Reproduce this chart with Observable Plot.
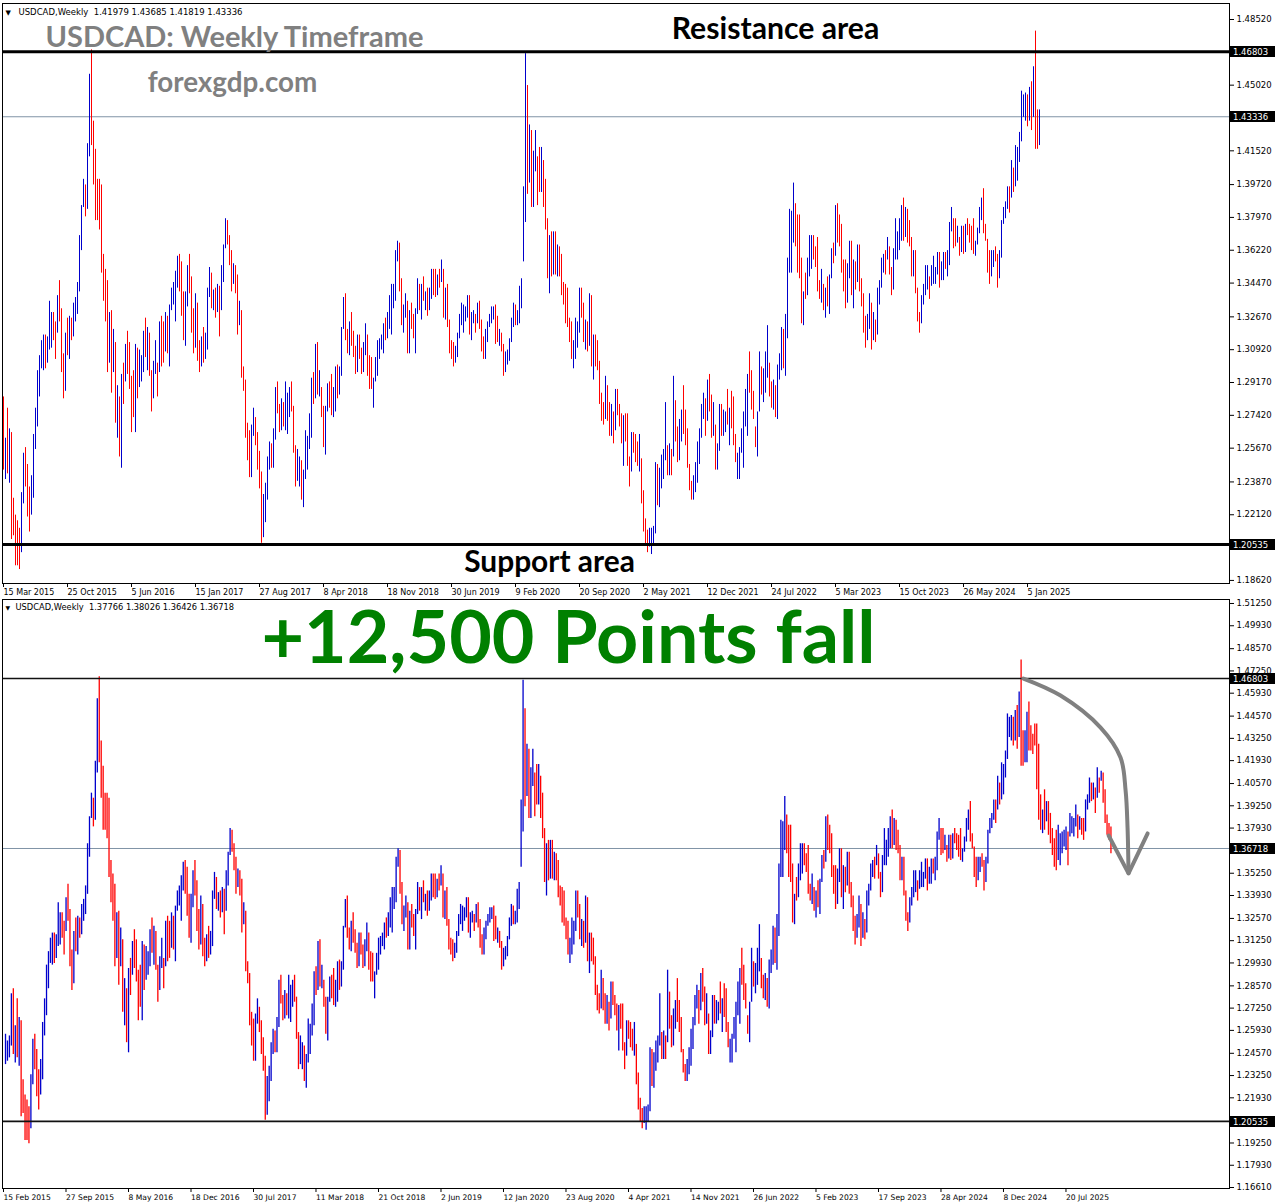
<!DOCTYPE html>
<html><head><meta charset="utf-8">
<script src="https://cdn.jsdelivr.net/npm/d3@7"></script>
<script src="https://cdn.jsdelivr.net/npm/@observablehq/plot@0.6"></script>
<style>
html,body{margin:0;padding:0;background:#fff;}
#wrap{width:1282px;height:1203px;overflow:hidden;background:#fff}
#wrap svg{display:block}
</style></head><body><div id="wrap"></div>
<script>
// Weekly USDCAD bars, [high, low, close] in thousandths above 1.000 (e.g. 284 = 1.284)
// first week starts Sunday 15 Feb 2015, one entry per week
const w2015 = [[257,239,249],[253,241,251],[256,243,253],[281,250,272],[284,245,255],[262,240,259],[278,243,250],[267,238,263],[265,208,222],[230,210,213],[221,194,205],[218,194,200],[214,192,196],[233,201,229],[254,227,250],[257,236,241],[248,220,228],[236,212,222],[242,221,238],[264,230,259],[278,256,274],[298,268,293],[306,284,302],[314,299,308],[317,298,313],[317,299,309],[316,302,313],[335,309,321],[329,310,327],[329,314,326],[324,304,321],[338,318,333],[346,324,330],[331,297,301],[307,283,293],[318,287,313],[326,306,308],[327,304,325],[326,314,323],[334,316,331],[337,324,336],[345,328,340],[370,340,367],[386,362,383],[400,385,389],[397,380,384]];
const w2016 = [[419,384,418],[456,412,444],[469,418,420],[431,397,401],[416,378,389],[400,378,386],[400,373,378],[397,350,354],[360,335,338],[352,324,326],[346,297,301],[329,302,325],[330,286,301],[320,297,309],[313,270,277],[290,262,279],[284,252,254],[296,246,293],[302,280,288],[312,292,311],[319,296,309],[313,288,291],[295,265,282],[298,273,278],[312,265,300],[310,283,289],[309,289,297],[306,292,300],[319,297,314],[326,305,307],[321,298,313],[318,295,297],[298,276,290],[303,283,301],[314,296,307],[302,284,300],[324,297,319],[327,300,314],[324,302,312],[329,308,325],[327,307,312],[333,300,333],[342,330,340],[345,333,341],[351,324,348],[359,342,355],[360,340,349],[356,327,329],[340,314,319],[340,311,338],[354,332,351],[360,339,343]];
const w2017 = [[348,318,323],[331,307,312],[339,310,332],[334,303,313],[314,297,305],[316,300,310],[321,302,308],[318,304,309],[342,309,339],[353,337,344],[350,331,336],[341,330,336],[342,326,330],[344,329,343],[343,316,330],[354,330,350],[365,345,364],[379,363,372],[378,365,368],[370,354,356],[362,340,349],[355,344,350],[354,339,349],[349,317,323],[335,322,328],[330,294,297],[300,287,288],[293,262,265],[270,250,252],[266,241,243],[269,241,266],[278,263,268],[273,258,260],[265,245,248],[255,235,238],[244,206,213],[232,209,219],[238,217,233],[252,229,247],[260,245,255],[259,246,248],[267,246,264],[289,261,284],[292,275,277],[280,265,270],[283,266,275],[281,268,269],[292,266,270],[286,264,283],[289,273,286],[292,276,277],[279,254,257]];
const w2018 = [[258,236,241],[256,239,244],[252,236,245],[250,229,233],[245,225,243],[266,240,258],[263,245,258],[275,256,265],[294,262,288],[297,280,283],[312,283,310],[313,285,289],[298,284,289],[289,273,279],[279,257,259],[279,253,277],[291,276,284],[292,278,282],[296,274,275],[289,273,286],[300,276,299],[301,283,294],[300,285,296],[321,295,317],[337,320,330],[339,314,315],[320,307,308],[324,306,314],[329,311,313],[319,305,305],[311,296,299],[317,297,315],[317,304,305],[310,296,304],[313,297,306],[323,306,318],[317,295,301],[306,288,292],[305,288,291],[294,278,293],[305,292,299],[314,295,310],[315,304,313],[317,309,313],[323,307,322],[326,314,315],[329,315,327],[338,320,329],[344,317,338],[344,331,339],[362,335,359],[367,356,363]];
const w2019 = [[366,340,341],[347,322,326],[333,318,327],[339,326,334],[335,307,310],[330,307,328],[334,320,323],[328,315,318],[331,307,330],[347,328,341],[344,330,336],[344,325,343],[348,335,337],[340,330,337],[342,327,334],[342,330,341],[352,336,347],[352,338,344],[352,337,342],[349,338,347],[352,342,345],[357,345,350],[352,326,327],[342,325,340],[344,321,322],[325,307,309],[314,304,308],[313,300,303],[311,302,307],[318,305,317],[328,315,323],[334,322,324],[333,318,330],[332,324,330],[338,326,331],[338,317,318],[329,314,327],[330,323,328],[328,318,324],[334,323,331],[335,320,321],[325,308,312],[316,304,306],[320,304,315],[324,313,323],[328,321,323],[332,323,328],[332,325,330],[333,312,325],[327,313,315],[320,311,316],[318,308,311]];
const w2020 = [[312,295,299],[308,297,306],[309,301,306],[315,303,314],[326,313,323],[334,321,332],[333,322,324],[330,322,325],[343,323,341],[347,331,343],[396,356,392],[467,377,432],[450,392,405],[429,398,421],[426,385,396],[415,385,407],[426,404,409],[412,386,400],[417,393,394],[417,393,409],[410,385,399],[400,373,378],[379,347,348],[370,339,360],[372,348,359],[372,349,366],[372,349,356],[365,348,358],[364,348,357],[360,338,341],[345,333,340],[344,323,339],[342,321,324],[326,313,318],[324,304,305],[314,299,306],[326,304,318],[324,310,320],[342,318,340],[342,326,330],[334,313,314],[325,309,319],[324,308,314],[339,311,332],[338,300,303],[317,293,313],[317,300,308],[314,298,299],[303,280,282],[286,271,276],[281,269,273],[295,272,286]];
const w2021 = [[290,271,274],[281,263,273],[280,263,274],[276,259,269],[288,266,279],[288,274,276],[280,268,270],[275,259,262],[274,247,273],[275,260,265],[275,247,249],[252,236,248],[265,244,258],[265,254,257],[264,249,256],[260,247,249],[264,244,250],[251,227,229],[234,212,213],[219,205,211],[213,201,207],[214,204,208],[214,200,209],[215,205,214],[249,211,246],[248,226,227],[246,225,243],[253,235,246],[256,240,254],[281,250,257],[258,242,248],[259,242,255],[256,242,252],[295,252,285],[282,260,261],[268,249,253],[272,250,269],[277,260,276],[290,264,266],[277,258,264],[267,246,247],[248,234,237],[239,229,236],[242,229,238],[249,233,245],[260,238,257],[267,248,264],[280,262,278],[286,272,284],[283,263,270],[293,271,288],[296,276,280]];
const w2022 = [[285,262,263],[281,263,265],[269,245,252],[259,245,256],[280,255,273],[280,263,272],[277,263,273],[276,265,274],[288,269,270],[278,258,277],[287,267,276],[284,258,260],[264,249,250],[254,240,251],[257,240,256],[267,254,262],[276,246,275],[288,268,285],[296,263,288],[308,286,287],[298,277,282],[287,272,273],[268,257,259],[276,252,275],[308,276,301],[300,285,287],[299,281,288],[308,286,296],[322,294,301],[302,284,288],[292,278,280],[293,277,288],[290,273,278],[301,272,300],[307,293,302],[321,298,313],[320,299,301],[328,295,326],[358,315,357],[384,350,378],[383,350,379],[398,366,384],[387,364,369],[381,350,361],[381,347,349],[358,323,328],[340,322,339],[350,336,337],[358,338,347],[370,348,363],[370,352,367],[370,357,358]];
const w2023 = [[364,353,355],[369,340,342],[346,336,338],[352,334,339],[344,330,331],[342,326,340],[348,332,334],[349,328,348],[363,347,361],[366,355,360],[386,359,383],[387,366,374],[381,364,373],[376,350,352],[357,340,350],[357,331,336],[355,334,354],[367,347,355],[367,338,339],[357,331,356],[356,341,350],[365,345,361],[365,340,341],[347,332,335],[339,318,320],[327,310,316],[328,314,324],[339,320,326],[334,309,321],[329,314,324],[325,313,319],[342,317,337],[346,333,344],[358,342,355],[360,350,359],[362,349,358],[369,357,364],[364,349,351],[353,338,348],[363,341,358],[379,357,368],[372,357,371],[379,362,372],[386,367,384],[390,367,372],[385,369,380],[384,366,372],[378,364,365],[369,348,350],[362,348,359],[362,339,340],[342,324,325]];
const w2024 = [[329,318,324],[338,323,336],[344,333,341],[354,338,342],[354,341,346],[348,336,344],[354,343,345],[359,344,347],[353,344,349],[361,349,356],[361,342,348],[356,346,354],[361,346,359],[361,352,354],[362,348,361],[377,354,376],[385,372,377],[379,363,367],[379,364,366],[375,366,367],[369,359,362],[375,361,367],[375,360,364],[376,361,375],[379,370,373],[376,366,370],[375,362,368],[379,360,364],[367,359,366],[374,365,373],[385,371,382],[390,378,387],[395,371,373],[376,367,368],[368,350,351],[362,344,350],[362,348,358],[362,353,359],[364,356,358],[360,342,352],[362,347,358],[378,358,377],[385,376,383],[388,379,384],[396,384,395],[396,382,394],[410,390,409],[406,393,396],[418,396,401],[417,399,415],[425,409,423],[447,420,434],[445,433,440]];
const w2025 = [[446,431,441],[445,428,438],[449,431,445],[452,426,435],[460,433,453],[479,416,430],[437,416,420],[437,418,433],[448,418,447],[454,425,437],[440,425,433],[435,423,430],[441,428,429],[441,402,423],[429,384,387],[399,378,384],[390,376,386],[402,378,382],[395,383,393],[395,375,389],[388,370,374],[379,363,372],[373,356,367],[378,354,359],[381,360,370],[376,357,371],[377,364,372],[378,368,375],[380,366,377],[377,357,370],[388,374,380],[386,376,383],[385,374,384],[393,380,387],[387,373,380],[386,378,383],[385,375,378],[385,372,376],[396,377,393],[399,390,396],[409,394,403],[406,395,396],[406,396,401],[403,388,398],[415,397,410],[409,400,403],[413,407,411],[412,394,397],[402,382,386],[387,375,379],[382,372,378],[380,364,367]];

const firstWeek = Date.UTC(2015, 1, 15);
const resistance = 1.46803, support = 1.20535;
const topLastClose = 1.43336, bottomLastClose = 1.36718;
const topHeader = "USDCAD,Weekly\u00a0\u00a01.41979 1.43685 1.41819 1.43336";
const bottomHeader = "USDCAD,Weekly\u00a0\u00a01.37766 1.38026 1.36426 1.36718";
const topYTicks = [1.4852,1.4502,1.4152,1.3972,1.3797,1.3622,1.3447,1.3267,1.3092,1.2917,1.2742,1.2567,1.2387,1.2212,1.2037,1.1862];
const bottomYTicks = [1.5125,1.4993,1.4857,1.4725,1.4593,1.4457,1.4325,1.4193,1.4057,1.3925,1.3793,1.3657,1.3525,1.3393,1.3257,1.3125,1.2993,1.2857,1.2725,1.2593,1.2457,1.2325,1.2193,1.1925,1.1793,1.1661];
const topXTicks = d3.range(17).map(k => 4 + 32 * k);      // week indexes of date labels
const bottomXTicks = d3.range(18).map(k => 32 * k);
// annotation arrow in (week index, price)
const arrowCurve = [[521.2,1.4680],[540.2,1.4579],[560.7,1.4389],[570.9,1.4212],[573.5,1.4016],[574.5,1.3796],[575.0,1.3524]];
const arrowHead = [[564.8,1.3749],[575.0,1.3524],[584.8,1.3761]];

const weeks = [].concat(w2015,w2016,w2017,w2018,w2019,w2020,w2021,w2022,w2023,w2024,w2025);
const bars = weeks.map(([h,l,c], j) => ({j, high: 1 + h/1000, low: 1 + l/1000, close: 1 + c/1000}));
bars.forEach((b, i) => { b.open = i ? bars[i-1].close : b.close; b.up = b.close >= b.open; });
const fmtDate = d3.utcFormat("%-d %b %Y");
const weekLabel = j => fmtDate(new Date(firstWeek + j * 7 * 864e5));

const UP = "#0000cc", DOWN = "#ff0000";
const tickFont = "DejaVu Sans, Verdana, sans-serif";
const bigFont = "Lato, 'Open Sans', sans-serif";

function barMarks(data, sw) {
  return [
    Plot.ruleX(data.filter(d => d.up), {x: "j", y1: "low", y2: "high", stroke: UP, strokeWidth: sw}),
    Plot.ruleX(data.filter(d => !d.up), {x: "j", y1: "low", y2: "high", stroke: DOWN, strokeWidth: sw})
  ];
}

function priceBoxes(svg, values, right) {
  const y = svg.scale("y");
  const g = d3.select(svg).append("g").attr("text-anchor", "start");
  for (const v of values) {
    const py = Math.round(y.apply(v));
    g.append("rect").attr("x", right + 1).attr("y", py - 5).attr("width", 45).attr("height", 11).attr("fill", "#000");
    g.append("text").attr("x", right + 4).attr("y", py + 4).attr("fill", "#fff").attr("text-anchor", "start")
      .attr("font-family", tickFont).attr("font-size", 8.5).text(v.toFixed(5));
  }
}

const W = 1282, ML = 2, MR = 53;

// ---------- top panel ----------
const topBars = bars.filter(d => d.j >= 4 && d.j <= 522);
const topPlot = Plot.plot({
  width: W, height: 598, marginLeft: ML, marginRight: MR, marginTop: 3, marginBottom: 15,
  x: {domain: [3.5, 617], axis: null},
  y: {domain: [1.18456, 1.49373], axis: null},
  style: {background: "#fff", fontFamily: tickFont, overflow: "visible"},
  marks: [
    Plot.ruleY([topLastClose], {stroke: "#8093a6", strokeWidth: 1}),
    ...barMarks(topBars, 1),
    Plot.ruleY([resistance, support], {stroke: "#000", strokeWidth: 3}),
    Plot.frame({stroke: "#000"}),
    Plot.axisY({anchor: "right", ticks: topYTicks, tickFormat: d => d.toFixed(5), tickSize: 4, tickPadding: 3, fontSize: 8.5, label: null}),
    Plot.axisX({anchor: "bottom", ticks: topXTicks, tickFormat: weekLabel, textAnchor: "start", tickSize: 4, tickPadding: 2, dx: 0, fontSize: 8, label: null}),
    Plot.text(["\u25bc"], {frameAnchor: "top-left", dx: 3, dy: 11, lineAnchor: "bottom", fontSize: 7, fill: "#000"}),
    Plot.text([topHeader], {frameAnchor: "top-left", dx: 16, dy: 11, lineAnchor: "bottom", textAnchor: "start", fontSize: 8.5, fill: "#000"}),
    Plot.text(["USDCAD: Weekly Timeframe"], {frameAnchor: "top-left", dx: 232, dy: 43, lineAnchor: "bottom", textAnchor: "middle", fontSize: 29, fontWeight: 700, fontFamily: bigFont, fill: "#808080"}),
    Plot.text(["forexgdp.com"], {frameAnchor: "top-left", dx: 230, dy: 88, lineAnchor: "bottom", textAnchor: "middle", fontSize: 27.8, fontWeight: 700, fontFamily: bigFont, fill: "#808080"}),
    Plot.text(["Resistance area"], {frameAnchor: "top-left", dx: 773, dy: 35, lineAnchor: "bottom", textAnchor: "middle", fontSize: 30.2, fontWeight: 700, fontFamily: bigFont, fill: "#000"}),
    Plot.text(["Support area"], {frameAnchor: "top-left", dx: 547, dy: 568, lineAnchor: "bottom", textAnchor: "middle", fontSize: 29.9, fontWeight: 700, fontFamily: bigFont, fill: "#000"})
  ]
});
priceBoxes(topPlot, [resistance, topLastClose, support], W - MR);

// ---------- bottom panel ----------
const bottomPlot = Plot.plot({
  width: W, height: 605, marginLeft: ML, marginRight: MR, marginTop: 1, marginBottom: 15,
  x: {domain: [-1.54, 626.7], axis: null},
  y: {domain: [1.16551, 1.51487], axis: null},
  style: {background: "#fff", fontFamily: tickFont, overflow: "visible"},
  marks: [
    Plot.ruleY([bottomLastClose], {stroke: "#8093a6", strokeWidth: 1}),
    ...barMarks(bars, 1.3),
    Plot.ruleY([resistance, support], {stroke: "#111", strokeWidth: 1.6}),
    Plot.line(arrowCurve, {x: d => d[0], y: d => d[1], curve: "catmull-rom", stroke: "#808080", strokeWidth: 4}),
    Plot.line(arrowHead, {x: d => d[0], y: d => d[1], stroke: "#808080", strokeWidth: 4, strokeLinejoin: "miter"}),
    Plot.frame({stroke: "#000"}),
    Plot.axisY({anchor: "right", ticks: bottomYTicks, tickFormat: d => d.toFixed(5), tickSize: 4, tickPadding: 3, fontSize: 8.5, label: null}),
    Plot.axisX({anchor: "bottom", ticks: bottomXTicks, tickFormat: weekLabel, textAnchor: "start", tickSize: 4, tickPadding: 2, dx: -2, fontSize: 7.6, label: null}),
    Plot.text(["\u25bc"], {frameAnchor: "top-left", dx: 3, dy: 10, lineAnchor: "bottom", fontSize: 6, fill: "#000"}),
    Plot.text([bottomHeader], {frameAnchor: "top-left", dx: 13, dy: 10, lineAnchor: "bottom", textAnchor: "start", fontSize: 8.3, fill: "#000"}),
    Plot.text(["+12,500 Points fall"], {frameAnchor: "top-left", dx: 566, dy: 63, lineAnchor: "bottom", textAnchor: "middle", fontSize: 73.5, fontWeight: 700, fontFamily: bigFont, fill: "#008000"})
  ]
});
priceBoxes(bottomPlot, [resistance, bottomLastClose, support], W - MR);

const wrap = document.getElementById("wrap");
wrap.appendChild(topPlot);
wrap.appendChild(bottomPlot);
</script>
</body></html>
